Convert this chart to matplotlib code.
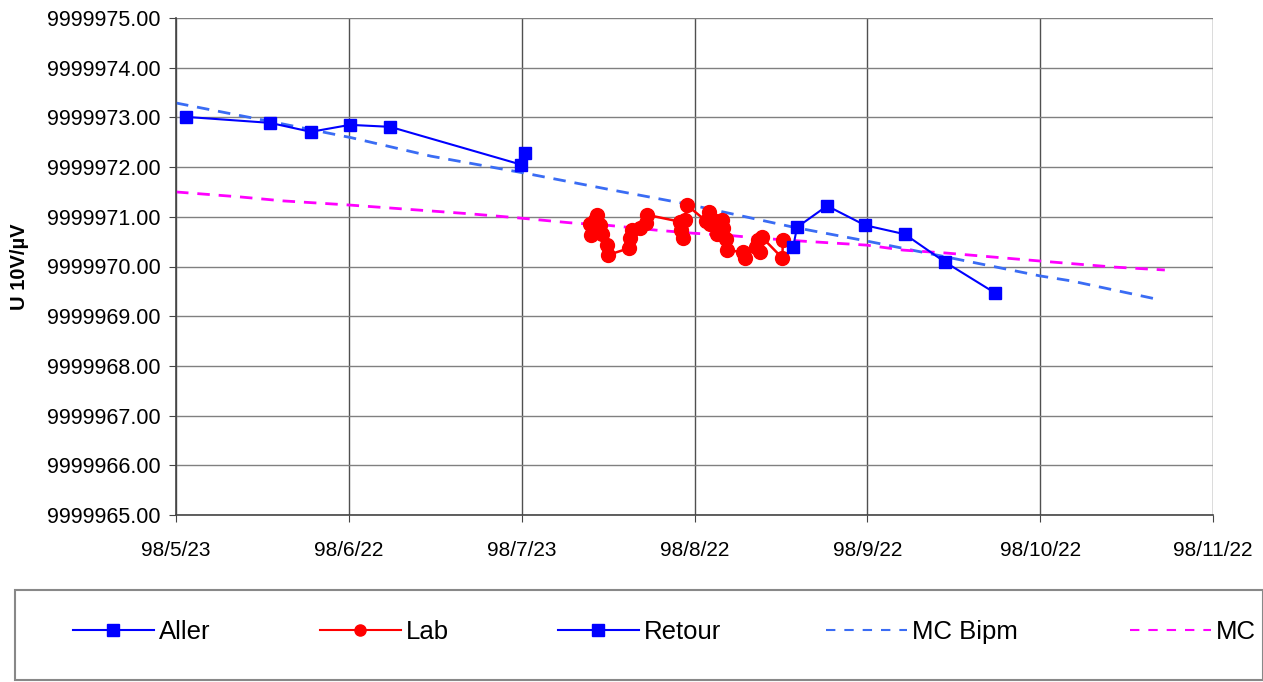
import numpy as np
import matplotlib
matplotlib.use("Agg")
import matplotlib.pyplot as plt
from matplotlib.lines import Line2D
from matplotlib.patches import Rectangle
from matplotlib.ticker import FormatStrFormatter

plt.rcParams['font.family'] = ['Liberation Sans', 'DejaVu Sans']

# x values are days after 98/5/23
aller_day = [1.8, 16.6, 23.8, 30.7, 37.8, 60.9, 61.6]
aller_val = [9999973.01, 9999972.89, 9999972.71, 9999972.85, 9999972.81, 9999972.05, 9999972.28]

lab_day = [73.0, 73.2, 73.5, 74.0, 74.3, 74.8, 75.2, 76.0, 76.2, 80.0, 80.2, 80.4,
           81.8, 83.0, 83.1, 89.0, 89.2, 89.4, 89.8, 90.1, 93.5, 94.0, 94.3, 94.8,
           95.4, 96.3, 96.5, 97.0, 97.2, 100.0, 100.4, 102.4, 102.7, 103.0, 103.4,
           107.0, 107.1]
lab_val = [9999970.85, 9999970.63, 9999970.77, 9999970.94, 9999971.04, 9999970.83,
           9999970.65, 9999970.43, 9999970.23, 9999970.37, 9999970.57, 9999970.73,
           9999970.77, 9999970.88, 9999971.04, 9999970.90, 9999970.73, 9999970.57,
           9999970.94, 9999971.24, 9999970.92, 9999971.10, 9999970.85, 9999970.94,
           9999970.65, 9999970.94, 9999970.77, 9999970.55, 9999970.33, 9999970.29,
           9999970.17, 9999970.40, 9999970.53, 9999970.29, 9999970.59, 9999970.17,
           9999970.53]

retour_day = [108.9, 109.6, 114.9, 121.6, 128.6, 135.7, 144.5]
retour_val = [9999970.39, 9999970.79, 9999971.22, 9999970.83, 9999970.65, 9999970.09, 9999969.47]

mcb_day = [0, 17, 31, 45, 61, 76, 90, 109, 122, 136, 152.5, 158, 173.6]
mcb_val = [9999973.29, 9999972.91, 9999972.59, 9999972.22, 9999971.89, 9999971.56,
           9999971.26, 9999970.79, 9999970.51, 9999970.19, 9999969.81, 9999969.71,
           9999969.33]

mc_day = [0, 11.3, 18.9, 30.2, 51.9, 60.2, 69.5, 76.1, 84.9, 91.2, 97.2, 103,
          110.6, 121.9, 128.3, 136, 152.5, 165.3, 174.5]
mc_val = [9999971.50, 9999971.40, 9999971.32, 9999971.24, 9999971.06, 9999970.98,
          9999970.88, 9999970.83, 9999970.73, 9999970.67, 9999970.63, 9999970.57,
          9999970.51, 9999970.43, 9999970.33, 9999970.27, 9999970.11, 9999969.99,
          9999969.93]

x_ticks = [0, 30.5, 61, 91.5, 122, 152.5, 183]
x_labels = ['98/5/23', '98/6/22', '98/7/23', '98/8/22', '98/9/22', '98/10/22', '98/11/22']

blue = '#0000FF'
red = '#FF0000'
bipm = '#3A6CF4'
magenta = '#FF00FF'

fig = plt.figure(figsize=(12.63, 6.82), dpi=100)
ax = fig.add_axes([176 / 1263, 1 - 515 / 682, (1213 - 176) / 1263, (515 - 18) / 682])

ax.plot(mcb_day, mcb_val, color=bipm, lw=2, dashes=(4.5, 3.2), zorder=2)
ax.plot(mc_day, mc_val, color=magenta, lw=2, dashes=(4.5, 3.2), zorder=2)
ax.plot(aller_day, aller_val, color=blue, lw=1.5, marker='s', ms=8.5, zorder=3)
ax.plot(lab_day, lab_val, color=red, lw=1.8, marker='o', ms=10, zorder=3)
ax.plot(retour_day, retour_val, color=blue, lw=1.5, marker='s', ms=8.5, zorder=3)

ax.set_xlim(0, 183)
ax.set_ylim(9999965, 9999975)
ax.set_xticks(x_ticks)
ax.set_xticklabels(x_labels)
ax.set_yticks(np.arange(9999965, 9999976, 1))
ax.yaxis.set_major_formatter(FormatStrFormatter('%.2f'))
ax.tick_params(axis='x', labelsize=15, length=5, pad=14, color='#444444')
ax.tick_params(axis='y', labelsize=15.5, length=5, pad=6, color='#444444')
ax.xaxis.grid(True, color='#505050', lw=1)
ax.yaxis.grid(True, color='#808080', lw=1)
ax.set_axisbelow(True)
for s in ['top', 'right']:
    ax.spines[s].set_visible(False)
for s in ['left', 'bottom']:
    ax.spines[s].set_color('#444444')
    ax.spines[s].set_linewidth(1.2)

ax.set_ylabel('U 10V/µV', fontsize=14.5, fontweight='bold')
ax.yaxis.set_label_coords(-0.142, 0.5)

# legend box at the bottom
fig.patches.append(Rectangle((15 / 1263, 2 / 682), 1 - 15 / 1263, (680 - 590) / 682,
                             transform=fig.transFigure, fill=False,
                             edgecolor='#888888', lw=1.5))

handles = [
    (Line2D([], [], color=blue, lw=1.5, marker='s', ms=8), 'Aller', 73),
    (Line2D([], [], color=red, lw=1.5, marker='o', ms=8), 'Lab', 320),
    (Line2D([], [], color=blue, lw=1.5, marker='s', ms=8), 'Retour', 558),
    (Line2D([], [], color=bipm, lw=1.5, dashes=(4.5, 4.3)), 'MC Bipm', 826),
    (Line2D([], [], color=magenta, lw=1.5, dashes=(4.5, 4.3)), 'MC', 1130),
]
for h, lab, xpix in handles:
    fig.legend(handles=[h], labels=[lab], loc='center left',
               bbox_to_anchor=(xpix / 1263, 1 - 632 / 682), frameon=False,
               fontsize=18.5, handlelength=3.15, handletextpad=0.2,
               borderpad=0, borderaxespad=0)

fig.savefig('out.png', dpi=100)
